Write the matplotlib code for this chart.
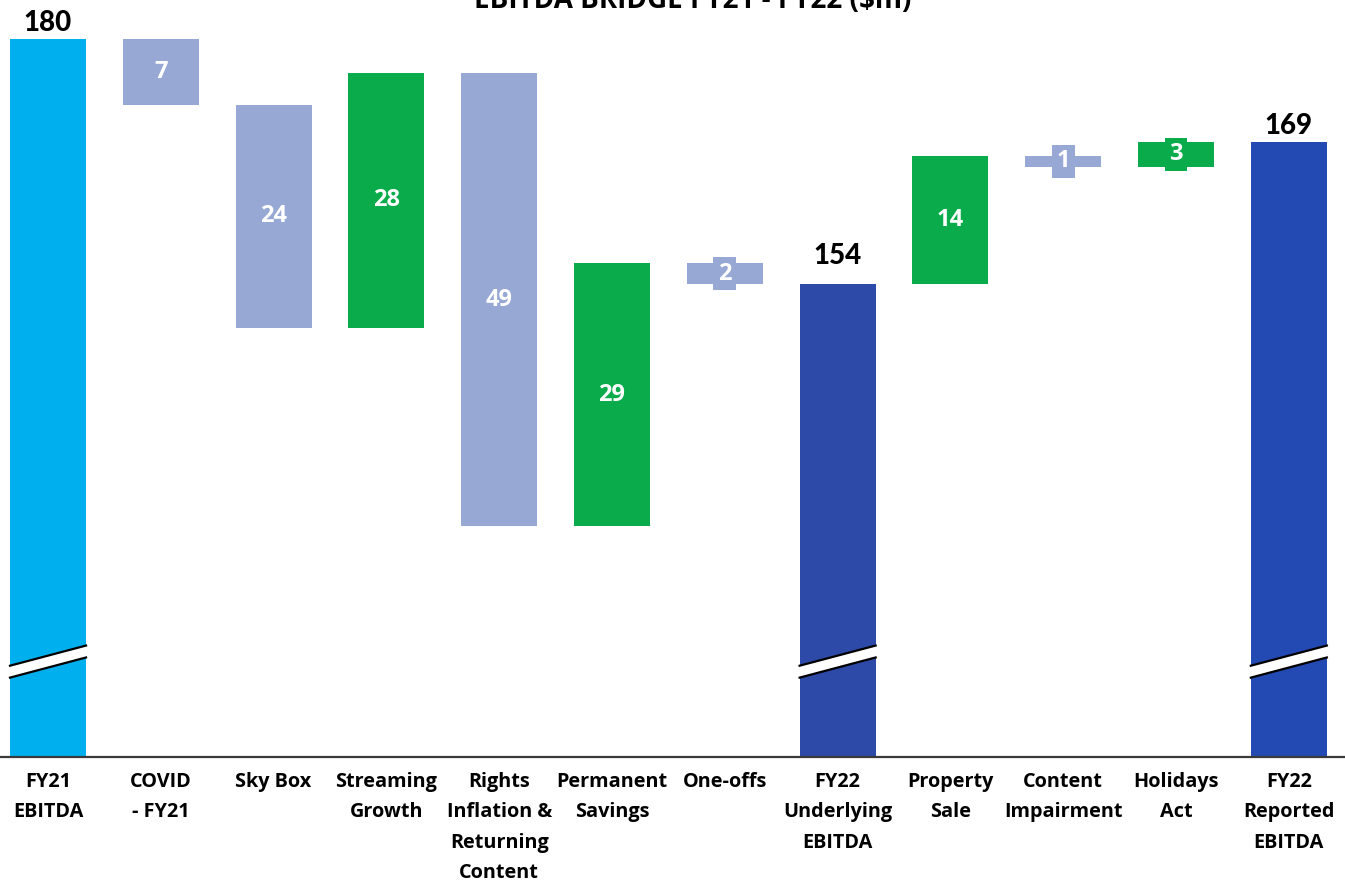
import matplotlib
matplotlib.use("Agg")
import matplotlib.pyplot as plt
from matplotlib.patches import Polygon

# ---- data ----
categories = ["FY21\nEBITDA", "COVID\n- FY21", "Sky Box", "Streaming\nGrowth",
              "Rights\nInflation &\nReturning\nContent", "Permanent\nSavings",
              "One-offs", "FY22\nUnderlying\nEBITDA", "Property\nSale",
              "Content\nImpairment", "Holidays\nAct", "FY22\nReported\nEBITDA"]
kinds = ["total", "neg", "neg", "pos", "neg", "pos", "neg", "total",
         "pos", "neg", "pos", "total"]
amounts = [180, 7.05, 23.5, 26.9, 47.9, 27.8, 2.2, 154.05, 13.5, 1.1, 2.6, 169.05]
labels = ["180", "7", "24", "28", "49", "29", "2", "154", "14", "1", "3", "169"]
title = "EBITDA BRIDGE FY21 - FY22 ($m)"

# ---- style ----
total_colors = {0: "#00B0EE", 7: "#2D4AA8", 11: "#2349B3"}
neg_color = "#97A8D5"
pos_color = "#0AAB4B"
y_lo, y_hi = 104.05, 184.07

fig = plt.figure(figsize=(13.45, 8.86), dpi=100)
ax = fig.add_axes([0, 129 / 886, 1, 757 / 886])
ax.set_xlim(-0.4255, 11.498)
ax.set_ylim(y_lo, y_hi)

width = 0.674
level = 0
for i, (k, a) in enumerate(zip(kinds, amounts)):
    if k == "total":
        bottom, height, col = 95, a - 95, total_colors[i]
        level = a
    elif k == "neg":
        bottom, height, col = level - a, a, neg_color
        level = level - a
    else:
        bottom, height, col = level, a, pos_color
        level = level + a
    ax.bar(i, height, bottom=bottom, width=width, color=col, zorder=2)
    if k == "total":
        off = {0: 1.5, 7: 11, 11: 2}[i]
        ax.annotate(labels[i], (i, a), xytext=(0, off), textcoords="offset points",
                    ha="center", va="bottom", fontsize=20, fontweight="black",
                    family="Lato", color="black", zorder=5)
        # axis-break stripe
        l, r = i - width / 2, i + width / 2
        yl, yr, h = 113.07, 115.2, 0.63
        ax.add_patch(Polygon([[l - 0.01, yl - h], [r + 0.01, yr - h],
                              [r + 0.01, yr + h], [l - 0.01, yl + h]],
                             closed=True, facecolor="white", edgecolor="none", zorder=3))
        ax.plot([l, r], [yl + h, yr + h], color="black", lw=1.6, zorder=4)
        ax.plot([l, r], [yl - h, yr - h], color="black", lw=1.6, zorder=4)
    else:
        ax.text(i, bottom + height / 2, labels[i], ha="center", va="center",
                fontsize=17, fontweight="bold", family="Open Sans", color="white",
                zorder=5,
                bbox=dict(boxstyle="square,pad=0.2", facecolor=col, edgecolor="none"))

ax.set_xticks(range(len(categories)))
ax.set_xticklabels(categories, fontsize=14.3, fontweight="bold", family="Open Sans",
                   linespacing=1.68, va="top")
ax.tick_params(axis="x", length=0, pad=11)
ax.set_yticks([])
for s in ["top", "left", "right"]:
    ax.spines[s].set_visible(False)
ax.spines["bottom"].set_color("#3a3a3a")
ax.spines["bottom"].set_linewidth(1.6)
ax.spines["bottom"].set_zorder(6)

fig.text(693 / 1345, 1 - 8 / 886, title, ha="center", va="baseline",
         fontsize=20, fontweight="bold", family="Open Sans", color="black")

fig.savefig("out.png", dpi=100)
